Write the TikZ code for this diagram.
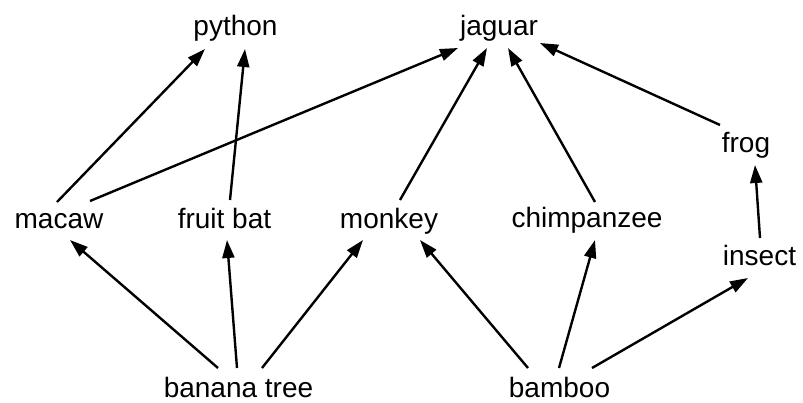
\documentclass[tikz,border=0pt]{standalone}
\usepackage{fontspec}
\setmainfont{Liberation Sans}
\usetikzlibrary{calc,arrows.meta}
\begin{document}
\begin{tikzpicture}[x=1pt,y=-1pt,
  lbl/.style={anchor=base,inner sep=0pt,font=\fontsize{28}{32}\selectfont},
  arr/.style={line width=2.4pt,-{Triangle[length=18pt,width=12pt]},shorten >=0pt}]
\useasboundingbox (0,0) rectangle (803,402);
\node[lbl] (python) at (235.5,35) {python};
\node[lbl] (jaguar) at (499,35) {jaguar};
\node[lbl] (frog) at (746,152) {frog};
\node[lbl] (macaw) at (59,228) {macaw};
\node[lbl] (fruitbat) at (224.5,228) {fruit bat};
\node[lbl] (monkey) at (389,228) {monkey};
\node[lbl] (chimp) at (587,227) {chimpanzee};
\node[lbl] (insect) at (759.5,265) {insect};
\node[lbl] (banana) at (238.5,397) {banana tree};
\node[lbl] (bamboo) at (559.5,397) {bamboo};
\draw[arr] ($(macaw.base)+(-2,-26)$) -- ($(python.base)+(-30.5,14)$);
\draw[arr] ($(fruitbat.base)+(5.5,-28)$) -- ($(python.base)+(9.5,14)$);
\draw[arr] ($(macaw.base)+(31,-27)$) -- ($(jaguar.base)+(-41,13)$);
\draw[arr] ($(monkey.base)+(11,-28)$) -- ($(jaguar.base)+(-12,13)$);
\draw[arr] ($(chimp.base)+(8,-25)$) -- ($(jaguar.base)+(9,13)$);
\draw[arr] ($(frog.base)+(-26,-27)$) -- ($(jaguar.base)+(41,8)$);
\draw[arr] ($(insect.base)+(0.5,-27)$) -- ($(frog.base)+(9,13)$);
\draw[arr] ($(banana.base)+(-20.5,-29)$) -- ($(macaw.base)+(11,12)$);
\draw[arr] ($(banana.base)+(-1.5,-29)$) -- ($(fruitbat.base)+(2.5,12)$);
\draw[arr] ($(banana.base)+(23.5,-29)$) -- ($(monkey.base)+(-26,12)$);
\draw[arr] ($(bamboo.base)+(-31.5,-29)$) -- ($(monkey.base)+(31,12)$);
\draw[arr] ($(bamboo.base)+(-0.5,-29)$) -- ($(chimp.base)+(8,13)$);
\draw[arr] ($(bamboo.base)+(32.5,-29)$) -- ($(insect.base)+(-11.5,13)$);
\end{tikzpicture}
\end{document}
